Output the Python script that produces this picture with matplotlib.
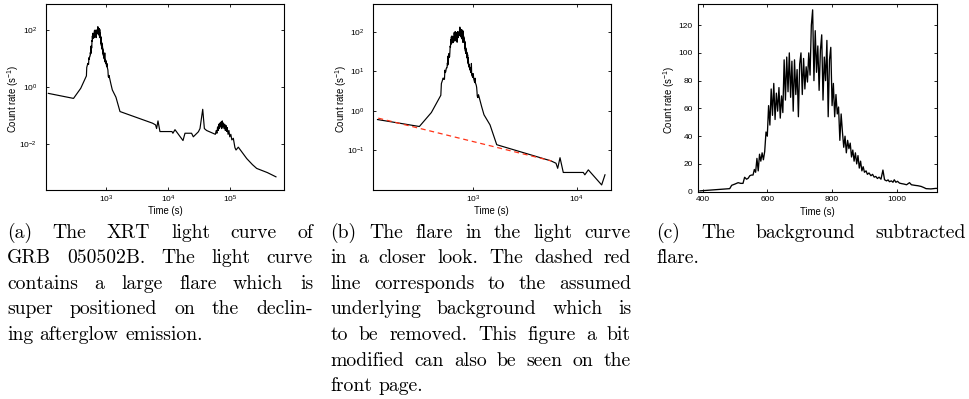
import numpy as np
import matplotlib
matplotlib.use('Agg')
import matplotlib.pyplot as plt
from matplotlib.ticker import NullLocator

plt.rcParams['font.family'] = ['Liberation Sans', 'DejaVu Sans']
plt.rcParams['mathtext.fontset'] = 'custom'
plt.rcParams['mathtext.rm'] = 'Liberation Sans'
plt.rcParams['mathtext.it'] = 'Liberation Sans:italic'
plt.rcParams['mathtext.default'] = 'regular'

# afterglow before the flare (s, counts/s)
pre_t = [118, 300]
pre_rate = [0.60, 0.40]

# background-subtracted flare (s, counts/s)
flare_t = [392, 484, 490, 500, 510, 518, 525, 530, 536, 541, 546, 551,
           556, 560, 564, 568, 572, 576, 580, 584, 588, 592, 596, 600,
           604, 608, 612, 616, 620, 624, 628, 632, 636, 640, 644, 648,
           652, 656, 660, 664, 668, 672, 676, 680, 684, 688, 692, 696, 700,
           704, 708, 712, 716, 720, 724, 728, 732, 736, 740, 744, 748, 752,
           756, 760, 764, 768, 772, 776, 780, 784, 788, 792, 796, 800,
           804, 808, 812, 816, 820, 824, 828, 832, 836, 840, 844, 848, 852,
           856, 860, 864, 868, 872, 876, 880, 884, 888, 892, 896, 900,
           905, 909, 914, 920, 925, 930, 935, 940, 945, 951, 957, 962, 968,
           973, 977, 983, 988, 992, 997, 1002, 1008, 1015, 1022, 1030, 1039,
           1045, 1050, 1058, 1065, 1075, 1085, 1090, 1105, 1121, 1203, 1267,
           1449, 1683]
flare_rate = [0.6, 2.2, 4.6, 5.5, 6.5, 6.0, 6.0, 10.4, 9.0, 9.7, 11.5, 12.0,
              12, 16, 14, 24, 15, 27, 22, 28, 23, 29, 43, 40,
              62, 48, 74, 55, 78, 52, 71, 58, 75, 53, 69, 57,
              95, 66, 97, 72, 100, 68, 94, 58, 95, 70, 88, 54, 92,
              100, 70, 96, 74, 90, 79, 100, 84, 120, 131, 80, 116, 86,
              105, 73, 102, 113, 66, 97, 80, 109, 54, 95, 104, 62,
              78, 54, 70, 56, 61, 37, 56, 43, 32, 40, 28, 37, 31,
              35, 25, 30, 22, 28, 20, 26, 17, 22, 15, 18, 14,
              15, 12.5, 13.5, 11.5, 12.5, 10.5, 11, 9.5, 10.5, 9.0, 15.6, 8.6, 7.8,
              8.5, 7.2, 7.8, 6.8, 8.6, 6.8, 7.5, 6.2, 5.8, 5.5, 5.0, 6.5,
              5.0, 4.8, 4.5, 4.3, 3.8, 2.8, 2.2, 2.0, 2.4, 1.12, 0.65,
              0.31, 0.02]

# afterglow after the flare
post_t = [5640, 6310, 6550, 6900, 7420, 11600, 12000, 12970, 17460, 18800,
          20000, 24000, 25600, 30900, 32800, 36300, 38600, 41900, 58000,
          60000, 61500, 63000, 64500, 66000, 67500, 69000, 70500, 72000,
          73500, 75000, 76500, 78000, 80000, 82000, 84000, 86000, 88000,
          90000, 93000, 96000, 99000, 103000, 107000, 113000, 120000,
          125000, 136000, 160000, 186000, 230000, 269000, 400000, 550000]
post_rate = [0.054, 0.047, 0.035, 0.065, 0.0275, 0.0275, 0.024, 0.032,
             0.0133, 0.024, 0.024, 0.024, 0.018, 0.027, 0.035, 0.166, 0.035,
             0.030, 0.022, 0.030, 0.024, 0.040, 0.030, 0.050, 0.035, 0.055,
             0.040, 0.060, 0.035, 0.065, 0.040, 0.055, 0.035, 0.050, 0.030,
             0.045, 0.028, 0.038, 0.022, 0.030, 0.018, 0.022, 0.014, 0.016,
             0.0075, 0.0062, 0.0078, 0.0048, 0.0031, 0.0019, 0.0014, 0.0010,
             0.00071]

# assumed underlying power-law background (end points)
bg_t = [120, 5700]
bg_rate = [0.65, 0.054]

slope = np.log(bg_rate[1] / bg_rate[0]) / np.log(bg_t[1] / bg_t[0])
bg_at_flare = bg_rate[0] * (np.array(flare_t) / bg_t[0]) ** slope
lc_t = np.concatenate([pre_t, flare_t, post_t])
lc_rate = np.concatenate([pre_rate, np.array(flare_rate) + bg_at_flare, post_rate])

W, H = 969, 399
fig = plt.figure(figsize=(W / 100, H / 100), dpi=100)


def add_ax(left, right, top, bottom):
    return fig.add_axes([left / W, 1 - bottom / H, (right - left) / W, (bottom - top) / H])


def style(ax, tick_pad):
    for s in ax.spines.values():
        s.set_linewidth(0.8)
    ax.tick_params(which='both', direction='in', top=True, right=True,
                   length=2.5, width=0.6, labelsize=6)
    ax.tick_params(axis='y', pad=tick_pad)
    ax.tick_params(axis='x', pad=3)
    ax.set_xlabel('Time (s)', fontsize=6.9)
    ax.set_ylabel('Count rate (s$^{-1}$)', fontsize=6.9)


ax_a = add_ax(46, 284.3, 4.3, 190)
ax_a.plot(lc_t, lc_rate, color='black', lw=0.85)
ax_a.set_xscale('log'); ax_a.set_yscale('log')
ax_a.set_xlim(108, 7.5e5); ax_a.set_ylim(2.45e-4, 8e2)
ax_a.set_xticks([1e3, 1e4, 1e5]); ax_a.set_yticks([1e-2, 1, 1e2])
ax_a.xaxis.set_minor_locator(NullLocator()); ax_a.yaxis.set_minor_locator(NullLocator())
style(ax_a, 6.5)
ax_a.yaxis.set_label_coords(-0.105, 0.49)
ax_a.xaxis.set_label_coords(0.5, -0.085)

ax_b = add_ax(372.7, 611, 4.3, 190)
keep = lc_t <= 19000
ax_b.plot(lc_t[keep], lc_rate[keep], color='black', lw=0.85)
ax_b.plot(bg_t, bg_rate, color='#ff3318', lw=0.9, ls=(0, (4, 3)))
ax_b.set_xscale('log'); ax_b.set_yscale('log')
ax_b.set_xlim(106, 21500); ax_b.set_ylim(0.0099, 494)
ax_b.set_xticks([1e3, 1e4]); ax_b.set_yticks([0.1, 1, 10, 100])
ax_b.xaxis.set_minor_locator(NullLocator()); ax_b.yaxis.set_minor_locator(NullLocator())
style(ax_b, 5.8)
ax_b.yaxis.set_label_coords(-0.1, 0.49)
ax_b.xaxis.set_label_coords(0.5, -0.085)

ax_c = add_ax(698.3, 936.7, 4.3, 191.7)
ax_c.plot(flare_t, flare_rate, color='black', lw=0.95)
ax_c.set_xlim(387, 1123); ax_c.set_ylim(0, 135)
ax_c.set_xticks([400, 600, 800, 1000]); ax_c.set_yticks(range(0, 121, 20))
style(ax_c, 4.0)
ax_c.yaxis.set_label_coords(-0.09, 0.49)
ax_c.xaxis.set_label_coords(0.5, -0.08)

# justified captions under each panel
renderer = fig.canvas.get_renderer()
CAP_SIZE = 14.2
LEAD = 25.6


def text_w(s):
    t = fig.text(0, 0, s, fontsize=CAP_SIZE, family='cmr10')
    w = t.get_window_extent(renderer).width
    t.remove()
    return w


SPACE = text_w('a a') - text_w('aa')


def caption(lines, x0, x1, base0):
    width = x1 - x0
    for i, line in enumerate(lines):
        words = line.split()
        ws = [text_w(s) for s in words]
        last = i == len(lines) - 1
        gap = SPACE if last or len(words) < 2 else (width - sum(ws)) / (len(words) - 1)
        x = x0
        y = base0 + i * LEAD
        for s, w in zip(words, ws):
            fig.text(x / W, 1 - y / H, s, fontsize=CAP_SIZE, family='cmr10',
                     va='baseline', ha='left')
            x += w + gap


caption(['(a) The XRT light curve of',
         'GRB 050502B. The light curve',
         'contains a large flare which is',
         'super positioned on the declin-',
         'ing afterglow emission.'], 7, 313, 237.5)
caption(['(b) The flare in the light curve',
         'in a closer look. The dashed red',
         'line corresponds to the assumed',
         'underlying background which is',
         'to be removed. This figure a bit',
         'modified can also be seen on the',
         'front page.'], 330.5, 631, 237.5)
caption(['(c) The background subtracted',
         'flare.'], 656.5, 966, 237.5)

fig.savefig('out.png', dpi=100)
